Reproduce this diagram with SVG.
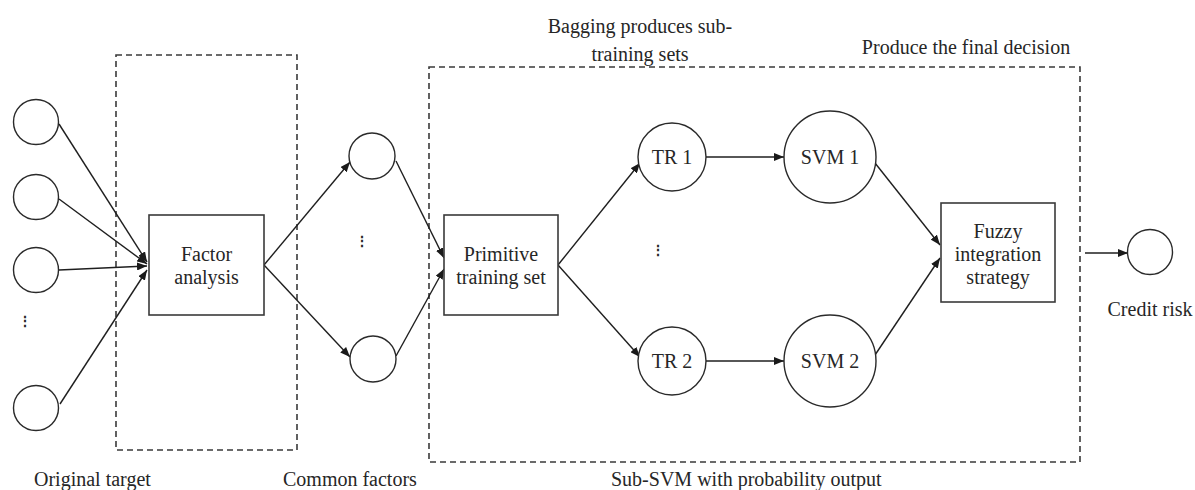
<svg xmlns="http://www.w3.org/2000/svg" width="1195" height="490" viewBox="0 0 1195 490">
<defs>
<marker id="arr" viewBox="0 0 10 8" refX="10" refY="4" markerWidth="10" markerHeight="8" markerUnits="userSpaceOnUse" orient="auto">
<path d="M0,0 L10,4 L0,8 z" fill="#1a1a1a"/>
</marker>
<style>
.c{fill:#fff;stroke:#2a2a2a;stroke-width:1.4}
.b{fill:#fff;stroke:#3a3a3a;stroke-width:1.6}
.d{fill:none;stroke:#3a3a3a;stroke-width:1.6;stroke-dasharray:6,4}
.l{fill:none;stroke:#1f1f1f;stroke-width:1.4;marker-end:url(#arr)}
text{font-family:"Liberation Serif","Times New Roman",serif;font-size:20px;fill:#262626}
.m{text-anchor:middle}
.dots{font-size:14px;font-weight:bold}
</style>
</defs>
<rect width="1195" height="490" fill="#fff"/>

<g id="regions">
<rect class="d" x="116" y="55" width="181" height="395"/>
<rect class="d" x="429" y="67" width="651" height="395"/>
</g>

<g id="labels">
<text x="640" y="33" class="m">Bagging produces sub-</text>
<text x="640" y="61" class="m">training sets</text>
<text x="966" y="54" class="m">Produce the final decision</text>
<text x="34" y="486">Original target</text>
<text x="283" y="486">Common factors</text>
<text x="611" y="486">Sub-SVM with probability output</text>
<text x="1150" y="316" class="m">Credit risk</text>
</g>

<g id="connectors">
<line class="l" x1="59" y1="124" x2="147" y2="262"/>
<line class="l" x1="59" y1="199" x2="147" y2="264"/>
<line class="l" x1="59" y1="270" x2="147" y2="266"/>
<line class="l" x1="60" y1="404" x2="147" y2="270"/>
<line class="l" x1="264" y1="265" x2="350" y2="162"/>
<line class="l" x1="264" y1="265" x2="350" y2="357"/>
<line class="l" x1="396" y1="161" x2="444" y2="258"/>
<line class="l" x1="396" y1="356" x2="444" y2="269"/>
<line class="l" x1="558" y1="265" x2="640" y2="163"/>
<line class="l" x1="558" y1="265" x2="640" y2="357"/>
<line class="l" x1="706" y1="157" x2="784" y2="157"/>
<line class="l" x1="706" y1="361" x2="784" y2="361"/>
<line class="l" x1="875" y1="163" x2="940" y2="245"/>
<line class="l" x1="875" y1="355" x2="940" y2="258"/>
<line class="l" x1="1085" y1="253" x2="1128" y2="253"/>
</g>

<g id="input-1"><circle class="c" cx="36" cy="122" r="22.5"/></g>
<g id="input-2"><circle class="c" cx="36" cy="197" r="22.5"/></g>
<g id="input-3"><circle class="c" cx="36" cy="270" r="22.5"/></g>
<g id="input-dots"><text class="m dots" x="25" y="326">⋮</text></g>
<g id="input-4"><circle class="c" cx="36" cy="408" r="22.5"/></g>

<g id="factor-analysis">
<rect class="b" x="149" y="215" width="115" height="100"/>
<text class="m" x="206.5" y="261">Factor</text>
<text class="m" x="206.5" y="284">analysis</text>
</g>

<g id="common-1"><circle class="c" cx="372" cy="156" r="23"/></g>
<g id="common-dots"><text class="m dots" x="362" y="246">⋮</text></g>
<g id="common-2"><circle class="c" cx="373" cy="359" r="23"/></g>

<g id="primitive-training-set">
<rect class="b" x="444" y="215" width="114" height="100"/>
<text class="m" x="501" y="261">Primitive</text>
<text class="m" x="501" y="284">training set</text>
</g>

<g id="tr1"><circle class="c" cx="672" cy="157" r="34"/><text class="m" x="672" y="164">TR 1</text></g>
<g id="tr-dots"><text class="m dots" x="658" y="255">⋮</text></g>
<g id="tr2"><circle class="c" cx="672" cy="361" r="34"/><text class="m" x="672" y="368">TR 2</text></g>

<g id="svm1"><circle class="c" cx="830" cy="157" r="46"/><text class="m" x="830" y="164">SVM 1</text></g>
<g id="svm2"><circle class="c" cx="830" cy="361" r="46"/><text class="m" x="830" y="368">SVM 2</text></g>

<g id="fuzzy-integration">
<rect class="b" x="941" y="203" width="114" height="99"/>
<text class="m" x="998" y="238">Fuzzy</text>
<text class="m" x="998" y="261">integration</text>
<text class="m" x="998" y="284">strategy</text>
</g>

<g id="credit-risk"><circle class="c" cx="1150" cy="252" r="22.5"/></g>
</svg>
